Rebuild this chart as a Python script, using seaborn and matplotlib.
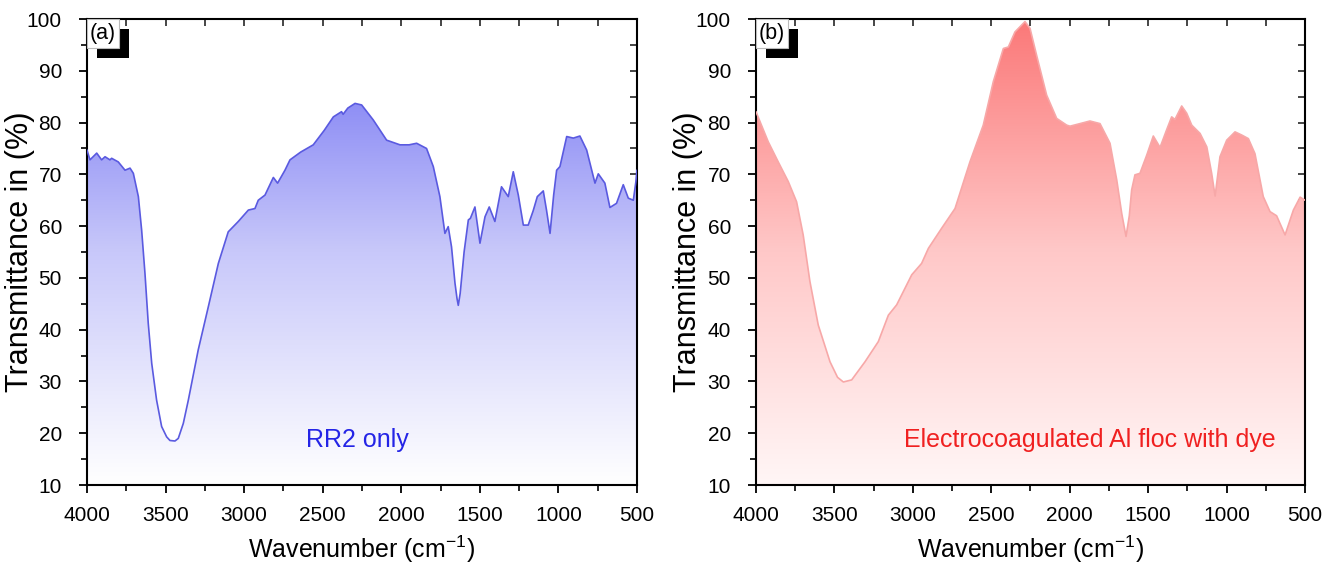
import numpy as np
import pandas as pd
import seaborn as sns
import matplotlib
matplotlib.use("Agg")
import matplotlib.pyplot as plt
from matplotlib.colors import LinearSegmentedColormap
from matplotlib.ticker import MultipleLocator
from matplotlib.patches import Rectangle

# ---------------- data ----------------
wn_a = [4000, 3981, 3938, 3907, 3885, 3854, 3843, 3801, 3758, 3726, 3705, 3673, 3652,
        3631, 3610, 3588, 3557, 3525, 3493, 3472, 3440, 3419, 3387, 3355, 3292, 3228, 3164, 3101,
        3037, 2973, 2931, 2910, 2867, 2814, 2787, 2740, 2708, 2640, 2560, 2490, 2432,
        2380, 2370, 2340, 2294, 2252, 2178, 2093, 2008, 1950, 1902, 1839, 1796, 1754,
        1722, 1701, 1680, 1658, 1645, 1637, 1625, 1600, 1573, 1560, 1531, 1499, 1467,
        1440, 1404, 1362, 1319, 1287, 1255, 1223, 1192, 1160, 1134, 1096, 1075, 1053,
        1030, 1011, 990, 947, 905, 863, 820, 767, 746, 704, 672, 630, 587, 555, 523, 507, 500]
tr_a = [74.7, 72.8, 74.1, 72.8, 73.4, 72.8, 73.1, 72.4, 70.8, 71.2, 70.2, 65.7, 59.2,
        50.9, 41.2, 33.5, 26.4, 21.3, 19.3, 18.6, 18.5, 19.0, 21.9, 26.4, 36.1, 44.4, 52.8, 58.9,
        60.9, 63.1, 63.4, 65.0, 66.0, 69.4, 68.3, 70.8, 72.8, 74.3, 75.7, 78.5, 81.1,
        82.1, 81.6, 82.8, 83.7, 83.4, 80.5, 76.6, 75.7, 75.7, 76.0, 75.0, 71.5, 65.7,
        58.6, 59.9, 56.0, 49.0, 46.0, 44.7, 47.0, 55.0, 61.2, 61.5, 63.7, 56.7, 61.8,
        63.7, 60.9, 67.6, 65.7, 70.5, 66.0, 60.2, 60.2, 63.0, 65.7, 66.8, 63.0, 58.6,
        66.0, 70.8, 71.5, 77.3, 77.0, 77.4, 74.7, 68.3, 70.1, 68.3, 63.6, 64.4, 68.0, 65.4, 65.0, 68.5, 70.8]

wn_b = [4000, 3922, 3858, 3794, 3741, 3699, 3656, 3603, 3528, 3480, 3443, 3390, 3305,
        3220, 3156, 3103, 3007, 2944, 2901, 2816, 2731, 2636, 2551, 2487, 2423, 2391,
        2349, 2285, 2253, 2211, 2147, 2083, 2019, 1998, 1934, 1871, 1807, 1743, 1700,
        1668, 1641, 1620, 1605, 1584, 1552, 1509, 1467, 1424, 1382, 1350, 1329, 1286,
        1254, 1222, 1169, 1126, 1095, 1073, 1042, 999, 946, 904, 861, 819, 766, 723,
        681, 627, 574, 531, 500]
tr_b = [82.1, 76.3, 72.4, 68.6, 64.7, 58.3, 49.3, 40.9, 33.8, 30.8, 29.9, 30.3, 33.8,
        37.7, 42.8, 44.8, 50.6, 52.8, 55.7, 59.6, 63.4, 72.4, 79.5, 87.9, 94.3, 94.6,
        97.5, 99.5, 98.2, 93.0, 85.3, 80.8, 79.5, 79.3, 79.8, 80.3, 79.8, 76.0, 68.9,
        62.4, 58.0, 62.0, 67.0, 69.9, 70.2, 73.7, 77.4, 75.2, 78.6, 81.1, 80.6, 83.2,
        81.8, 79.5, 77.9, 75.3, 70.2, 65.8, 73.4, 76.6, 78.2, 77.6, 76.9, 74.0, 65.7, 62.8,
        62.0, 58.3, 63.1, 65.6, 65.0]

panel_tags = ["(a)", "(b)"]
panel_notes = ["RR2 only", "Electrocoagulated Al floc with dye"]
x_ticks = [4000, 3500, 3000, 2500, 2000, 1500, 1000, 500]
y_ticks = [10, 20, 30, 40, 50, 60, 70, 80, 90, 100]

# ---------------- styling ----------------
sns.set_theme(style="ticks")
plt.rcParams['font.family'] = ['Liberation Sans', 'DejaVu Sans']
plt.rcParams['mathtext.default'] = 'regular'

fig = plt.figure(figsize=(13.3, 5.69), dpi=100)
ax_a = fig.add_axes([0.0654, 0.1476, 0.4135, 0.819])
ax_b = fig.add_axes([0.5684, 0.1476, 0.4128, 0.819])

specs = [
    (ax_a, wn_a, tr_a, "#5a5ae0", ["#ffffff", "#c8c8fa", "#6e6ef2"], "#2424e6", -0.095),
    (ax_b, wn_b, tr_b, "#f7a8a8", ["#fff6f6", "#ffc8c8", "#fb7878"], "#f02020", -0.097),
]

for i, (ax, wn, tr, lc, grad, tc, ylx) in enumerate(specs):
    df = pd.DataFrame({"wn": wn, "tr": tr})
    sns.lineplot(data=df, x="wn", y="tr", ax=ax, color=lc, lw=1.2, sort=False, zorder=3)
    poly = ax.fill_between(df["wn"], df["tr"], 10, color="none", lw=0)
    cmap = LinearSegmentedColormap.from_list("g", grad)
    g = np.linspace(1, 0, 256).reshape(-1, 1)
    im = ax.imshow(g, extent=[4000, 500, 10, 100], aspect="auto", cmap=cmap,
                   origin="upper", zorder=2)
    path = poly.get_paths()[0]
    im.set_clip_path(path, transform=ax.transData)

    ax.set_xlim(4000, 500)
    ax.set_ylim(10, 100)
    ax.set_xticks(x_ticks)
    ax.set_yticks(y_ticks)
    ax.xaxis.set_minor_locator(MultipleLocator(250))
    ax.yaxis.set_minor_locator(MultipleLocator(5))
    ax.tick_params(axis="both", which="major", direction="out", length=6, width=1.3,
                   labelsize=15, color="black", labelcolor="black")
    ax.tick_params(axis="x", which="major", pad=9)
    ax.tick_params(axis="y", which="major", pad=12)
    ax.tick_params(axis="both", which="minor", direction="out", length=4, width=1.2, color="black")
    for s in ax.spines.values():
        s.set_color("black")
        s.set_linewidth(1.5)
        s.set_visible(True)
    ax.set_xlabel("Wavenumber (cm$^{-1}$)", fontsize=18, color="black", labelpad=6)
    ax.set_ylabel("Transmittance in (%)", fontsize=22, color="black")
    ax.yaxis.set_label_coords(ylx, 0.5)

    # top / right inward ticks
    sec_x = ax.secondary_xaxis("top")
    sec_x.set_xticks(np.arange(500, 4001, 250))
    sec_x.tick_params(direction="in", length=5, width=1.2, labeltop=False)
    sec_x.set_xticklabels([])
    sec_y = ax.secondary_yaxis("right")
    sec_y.set_yticks(np.arange(10, 101, 5))
    sec_y.tick_params(direction="in", length=5, width=1.2, labelright=False)
    sec_y.set_yticklabels([])

    # panel tag with black shadow
    ax.add_patch(Rectangle((0.018, 0.916), 0.058, 0.063, transform=ax.transAxes,
                           facecolor="black", edgecolor="none", zorder=5, clip_on=False))
    ax.add_patch(Rectangle((0.0, 0.938), 0.058, 0.062, transform=ax.transAxes,
                           facecolor="white", edgecolor="#bbbbbb", lw=0.8, zorder=6, clip_on=False))
    ax.text(0.029, 0.969, panel_tags[i], transform=ax.transAxes, ha="center", va="center",
            fontsize=15.5, color="black", zorder=7)

    note_x = 2282 if i == 0 else 1871
    ax.text(note_x, 18.7, panel_notes[i], ha="center", va="center", fontsize=18,
            color=tc, zorder=7)

fig.savefig("out.png", dpi=100)
